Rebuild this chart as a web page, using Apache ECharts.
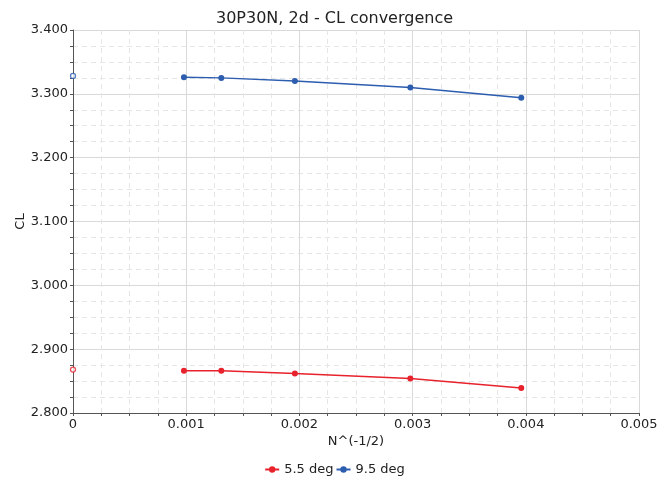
<!DOCTYPE html>
<html><head><meta charset="utf-8">
<script src="https://cdn.jsdelivr.net/npm/echarts@6/dist/echarts.min.js"></script>
<style>html,body{margin:0;padding:0;background:#fff}#c{width:669px;height:481px}</style>
</head><body><div id="c"></div>
<script>
const xValues = [0.00098, 0.00131, 0.00196, 0.00298, 0.00396];
const cl55 = [2.866, 2.866, 2.862, 2.854, 2.839];
const cl95 = [3.326, 3.325, 3.320, 3.310, 3.294];
const extrapX = [0];
const extrap55 = [2.868];
const extrap95 = [3.328];
const seriesNames = ['5.5 deg', '9.5 deg'];
const RED = '#e8222c', BLUE = '#2c5daf';
const font = 'DejaVu Sans';
const pairs = (xs, ys) => xs.map((x, i) => [x, ys[i]]);
const chart = echarts.init(document.getElementById('c'));
chart.setOption({
  animation: false,
  textStyle: {fontFamily: font},
  title: {text: '30P30N, 2d - CL convergence', left: 'center', top: 6,
    textStyle: {fontFamily: font, fontSize: 16, fontWeight: 'normal', color: '#222'}},
  grid: {left: 73, right: 30, top: 30, bottom: 68, containLabel: false},
  legend: {bottom: 0, left: 'center', itemWidth: 14, itemHeight: 8, itemGap: 2,
    data: seriesNames, textStyle: {fontFamily: font, fontSize: 13, color: '#222'}},
  xAxis: {type: 'value', min: 0, max: 0.005, interval: 0.001,
    name: 'N^(-1/2)', nameLocation: 'middle', nameGap: 22, nameMoveOverlap: false,
    nameTextStyle: {fontFamily: font, fontSize: 13, color: '#222'},
    axisLine: {lineStyle: {color: '#555'}},
    axisTick: {show: true, length: 3, lineStyle: {color: '#555'}},
    minorTick: {show: true, splitNumber: 4, length: 3, lineStyle: {color: '#555'}},
    axisLabel: {fontFamily: font, fontSize: 13, color: '#222', margin: 5,
      formatter: v => v === 0 ? '0' : v.toFixed(3)},
    splitLine: {show: true, lineStyle: {color: '#d9d9d9'}},
    minorSplitLine: {show: true, lineStyle: {color: '#e6e6e6', type: [5, 4]}}},
  yAxis: {type: 'value', min: 2.8, max: 3.4, interval: 0.1,
    name: 'CL', nameLocation: 'middle', nameGap: 46, nameRotate: 90, nameMoveOverlap: false,
    nameTextStyle: {fontFamily: font, fontSize: 13, color: '#222'},
    axisLine: {show: true, lineStyle: {color: '#555'}},
    axisTick: {show: true, length: 3, lineStyle: {color: '#555'}},
    minorTick: {show: true, splitNumber: 4, length: 3, lineStyle: {color: '#555'}},
    axisLabel: {fontFamily: font, fontSize: 13, color: '#222', margin: 5,
      formatter: v => v.toFixed(3)},
    splitLine: {show: true, lineStyle: {color: '#d9d9d9'}},
    minorSplitLine: {show: true, lineStyle: {color: '#e6e6e6', type: [5, 4]}}},
  series: [
    {name: seriesNames[0], type: 'line', data: pairs(xValues, cl55), color: RED,
      symbol: 'circle', symbolSize: 6, lineStyle: {width: 1.5}},
    {name: seriesNames[1], type: 'line', data: pairs(xValues, cl95), color: BLUE,
      symbol: 'circle', symbolSize: 6, lineStyle: {width: 1.5}},
    {name: 'ex55', type: 'scatter', data: pairs(extrapX, extrap55), symbol: 'circle',
      symbolSize: 5, clip: false, z: 10, itemStyle: {color: '#fff', borderColor: RED, borderWidth: 1.3}},
    {name: 'ex95', type: 'scatter', data: pairs(extrapX, extrap95), symbol: 'circle',
      symbolSize: 5, clip: false, z: 10, itemStyle: {color: '#fff', borderColor: BLUE, borderWidth: 1.3}}
  ]
});
</script></body></html>
